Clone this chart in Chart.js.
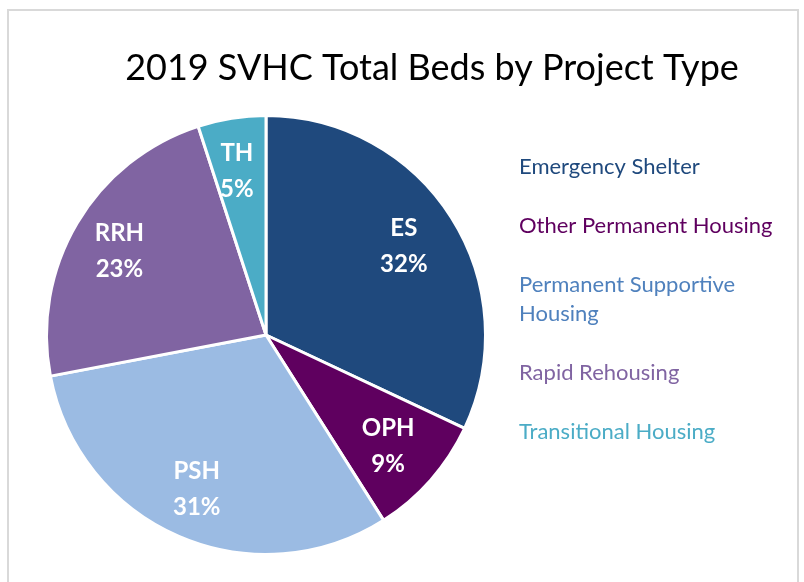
<!DOCTYPE html>
<html>
<head>
<meta charset="utf-8">
<script src="https://cdn.jsdelivr.net/npm/chart.js@4"></script>
<style>
  html, body { margin: 0; padding: 0; background: #fff; }
  #wrap { position: relative; width: 804px; height: 582px; overflow: hidden; }
  #frame { position: absolute; left: 7px; top: 9px; width: 792px; height: 600px; border: 2px solid #d9d9d9; box-sizing: border-box; }
  canvas { position: absolute; left: 0; top: 0; }
</style>
</head>
<body>
<div id="wrap">
  <div id="frame"></div>
  <canvas id="chart" width="804" height="582"></canvas>
</div>
<script>
const chartTitle = "2019 SVHC Total Beds by Project Type";
const categories = ["Emergency Shelter", "Other Permanent Housing", ["Permanent Supportive", "Housing"], "Rapid Rehousing", "Transitional Housing"];
const shortNames = ["ES", "OPH", "PSH", "RRH", "TH"];
const shares = [32, 9, 31, 23, 5];
const sliceColors = ["#1f497d", "#5f005f", "#9bbbe3", "#8064a2", "#4bacc6"];
const legendColors = ["#1f497d", "#5f005f", "#4f81bd", "#8064a2", "#4bacc6"];

const fontFamily = "Lato, 'Open Sans', sans-serif";

const overlayPlugin = {
  id: "overlay",
  afterDraw(chart) {
    const ctx = chart.ctx;
    ctx.save();

    // title
    ctx.fillStyle = "#000";
    ctx.font = `36px ${fontFamily}`;
    ctx.textAlign = "center";
    ctx.textBaseline = "middle";
    ctx.fillText(chartTitle, 432, 68);

    // slice labels
    const meta = chart.getDatasetMeta(0);
    ctx.fillStyle = "#fff";
    ctx.font = `bold 24px ${fontFamily}`;
    meta.data.forEach((arc, i) => {
      const p = arc.getProps(["x", "y", "startAngle", "endAngle", "outerRadius"], true);
      const mid = (p.startAngle + p.endAngle) / 2;
      const r = p.outerRadius * 0.76;
      const x = p.x + Math.cos(mid) * r;
      const y = p.y + Math.sin(mid) * r;
      ctx.fillText(shortNames[i], x - 3, y - 17);
      ctx.fillText(shares[i] + "%", x - 3, y + 19);
    });

    // legend (text only, coloured)
    ctx.textAlign = "left";
    ctx.font = `22px ${fontFamily}`;
    let y = 167;
    categories.forEach((label, i) => {
      const lines = Array.isArray(label) ? label : [label];
      ctx.fillStyle = legendColors[i];
      lines.forEach((line, j) => {
        ctx.fillText(line, 519, y + j * 29);
      });
      y += lines.length === 1 ? 59 : 88;
    });

    ctx.restore();
  },
};

new Chart(document.getElementById("chart"), {
  type: "pie",
  data: {
    labels: categories.map((c) => (Array.isArray(c) ? c.join(" ") : c)),
    datasets: [
      {
        data: shares,
        backgroundColor: sliceColors,
        borderColor: "#fff",
        borderWidth: 3,
      },
    ],
  },
  options: {
    responsive: false,
    animation: false,
    layout: { padding: { left: 45, right: 317, top: 114, bottom: 26 } },
    plugins: {
      legend: { display: false },
      tooltip: { enabled: false },
    },
  },
  plugins: [overlayPlugin],
});
</script>
</body>
</html>
